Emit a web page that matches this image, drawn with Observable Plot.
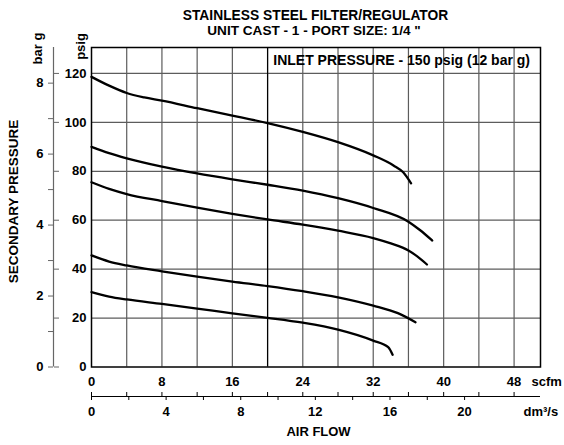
<!DOCTYPE html>
<html><head><meta charset="utf-8">
<script src="https://cdn.jsdelivr.net/npm/d3@7"></script>
<script src="https://cdn.jsdelivr.net/npm/@observablehq/plot@0.6"></script>
<style>html,body{margin:0;padding:0;background:#fff} svg{display:block}</style>
</head><body><div id="chart"></div>
<script>
// unit conversions
const PSI_PER_BAR = 14.5038;
const DM3S_PER_SCFM = 0.4719474;

// text
const titleLine1 = "STAINLESS STEEL FILTER/REGULATOR";
const titleLine2 = "UNIT CAST - 1 - PORT SIZE: 1/4 \"";
const inletLabel = "INLET PRESSURE - 150 psig (12 bar g)";
const yTitle = "SECONDARY PRESSURE";
const xTitle = "AIR FLOW";

// ticks
const scfmGrid = [4, 8, 12, 16, 20, 24, 28, 32, 36, 40, 44, 48];
const scfmTicks = [0, 4, 8, 12, 16, 20, 24, 28, 32, 36, 40, 44, 48];
const scfmLabels = [0, 8, 16, 24, 32, 40, 48];
const psigGrid = [20, 40, 60, 80, 100, 120];
const psigLabels = [0, 20, 40, 60, 80, 100, 120];
const barTicks = [0, 1, 2, 3, 4, 5, 6, 7, 8];
const dm3sTicks = [0, 2, 4, 6, 8, 10, 12, 14, 16, 18, 20];
const boxEdgeFlow = [20];

// curves (flow in scfm, secondary pressure in psig)
const curve1Flow = [0, 2, 4, 6, 8, 12, 16, 20, 24, 28, 32, 34.3, 35.4, 36.3];
const curve1Psig = [118.6, 115.0, 112.0, 110.2, 108.9, 105.8, 102.8, 99.7, 96.1, 91.9, 86.5, 82.4, 79.6, 75.1];
const curve2Flow = [0, 2, 4, 8, 12, 16, 20, 24, 28, 32, 36, 37.3, 38.7];
const curve2Psig = [90.0, 87.4, 85.3, 81.9, 79.1, 76.7, 74.5, 72.1, 69.0, 65.0, 59.4, 56.0, 51.7];
const curve3Flow = [0, 2, 4, 8, 12, 16, 20, 24, 28, 32, 34, 36, 37, 38.1];
const curve3Psig = [75.5, 72.8, 70.7, 67.8, 65.1, 62.6, 60.3, 58.2, 55.7, 52.7, 50.5, 47.6, 45.2, 41.9];
const curve4Flow = [0, 2, 4, 8, 12, 16, 20, 24, 28, 32, 34.8, 36.8];
const curve4Psig = [45.6, 43.1, 41.5, 39.1, 36.9, 34.9, 33.1, 31.0, 28.5, 25.1, 22.0, 18.3];
const curve5Flow = [0, 2, 4, 8, 12, 16, 20, 24, 28, 32, 33.7, 34.2];
const curve5Psig = [30.6, 28.8, 27.6, 25.8, 23.9, 21.9, 20.1, 18.1, 15.3, 10.8, 8.1, 5.0];

const curves = [
  [curve1Flow, curve1Psig], [curve2Flow, curve2Psig], [curve3Flow, curve3Psig],
  [curve4Flow, curve4Psig], [curve5Flow, curve5Psig]
];
const lineData = curves.flatMap(([fx, py], i) => fx.map((f, j) => ({id: i, flow: f, psig: py[j]})));

const FONT = "'Liberation Sans', Arial, Helvetica, sans-serif";
const GRID = "#5c5c5c";
const AXIS_GREY = "#666";

const chart = Plot.plot({
  width: 564,
  height: 445,
  marginLeft: 91,
  marginRight: 24,
  marginTop: 47,
  marginBottom: 78.5,
  style: {fontFamily: FONT, fontWeight: "bold", fontSize: "13px", background: "#fff", color: "#000", overflow: "visible"},
  x: {domain: [0, 51], axis: null},
  y: {domain: [0, 130.6], axis: null},
  marks: [
    // grid
    Plot.ruleX(scfmGrid, {stroke: GRID, strokeWidth: 1.2}),
    Plot.ruleY(psigGrid, {stroke: GRID, strokeWidth: 1.2}),
    Plot.ruleX(boxEdgeFlow, {stroke: "#000", strokeWidth: 1.2}),
    Plot.frame({stroke: "#000", strokeWidth: 1.5}),
    // curves
    Plot.line(lineData, {x: "flow", y: "psig", z: "id", curve: "monotone-x", stroke: "#000", strokeWidth: 2.3}),
    // inlet label
    Plot.text([inletLabel], {frameAnchor: "top-right", textAnchor: "end", lineAnchor: "middle", dx: -10.5, dy: 13, fontSize: 14, fontWeight: "bold", fill: "#000"}),
    // psig labels
    Plot.axisY(psigLabels, {anchor: "left", tickSize: 0, tickPadding: 5, label: null, fontSize: 13, fontWeight: "bold", fill: "#000"}),
    // psig tick marks on the pressure scale
    Plot.axisY(psigLabels, {anchor: "left", tickSize: 5, dx: -32, tickFormat: () => "", label: null, stroke: AXIS_GREY}),
    // bar axis
    Plot.ruleX([0], {dx: -38, stroke: AXIS_GREY, strokeWidth: 1.2}),
    Plot.axisY(barTicks.map(b => b * PSI_PER_BAR), {anchor: "left", tickSize: 5, tickPadding: 5, dx: -38, stroke: AXIS_GREY,
      tickFormat: d => { const b = Math.round(d / PSI_PER_BAR); return b % 2 === 0 ? String(b) : ""; },
      label: null, fontSize: 13, fontWeight: "bold", fill: "#000"}),
    // scfm labels
    Plot.axisX(scfmLabels, {anchor: "bottom", tickSize: 0, tickPadding: 10, label: null, fontSize: 13, fontWeight: "bold", fill: "#000"}),
    // lower axis line
    Plot.ruleY([0], {dy: 29.5, stroke: "#000", strokeWidth: 1.2}),
    // scfm ticks (upward)
    Plot.axisX(scfmTicks, {anchor: "bottom", tickSize: 4, dy: 25.5, tickFormat: () => "", label: null, stroke: "#000"}),
    // dm3/s ticks (downward) and labels
    Plot.axisX(dm3sTicks.map(d => d / DM3S_PER_SCFM), {anchor: "bottom", tickSize: 4, tickPadding: 6.5, dy: 29.5, stroke: "#000",
      tickFormat: d => { const v = Math.round(d * DM3S_PER_SCFM); return v % 4 === 0 ? String(v) : ""; },
      label: null, fontSize: 13, fontWeight: "bold", fill: "#000"}),
    // unit labels
    Plot.text(["scfm"], {frameAnchor: "bottom-right", textAnchor: "start", lineAnchor: "top", dx: -9, dy: 10, fontSize: 13, fontWeight: "bold", fill: "#000"}),
    Plot.text(["dm³/s"], {frameAnchor: "bottom-right", textAnchor: "start", lineAnchor: "top", dx: -17, dy: 40, fontSize: 13, fontWeight: "bold", fill: "#000"}),
    Plot.text([xTitle], {frameAnchor: "bottom", textAnchor: "middle", lineAnchor: "top", dx: 2.5, dy: 60.2, fontSize: 13, fontWeight: "bold", fill: "#000"}),
    // y titles
    Plot.text([yTitle], {frameAnchor: "left", rotate: -90, textAnchor: "middle", lineAnchor: "middle", dx: -77.7, dy: -5.75, fontSize: 13.5, fontWeight: "bold", fill: "#000"}),
    Plot.text(["bar g"], {frameAnchor: "top-left", rotate: -90, textAnchor: "middle", lineAnchor: "middle", dx: -53.5, dy: 1, fontSize: 13, fontWeight: "bold", fill: "#000"}),
    Plot.text(["psig"], {frameAnchor: "top-left", rotate: -90, textAnchor: "middle", lineAnchor: "middle", dx: -10.5, dy: -1, fontSize: 13, fontWeight: "bold", fill: "#000"}),
    // title
    Plot.text([titleLine1], {frameAnchor: "top", textAnchor: "middle", lineAnchor: "top", dx: -0.5, dy: -37.7, fontSize: 13.8, fontWeight: "bold", fill: "#000"}),
    Plot.text([titleLine2], {frameAnchor: "top", textAnchor: "middle", lineAnchor: "top", dx: -2, dy: -22, fontSize: 13.6, fontWeight: "bold", fill: "#000"})
  ]
});
document.getElementById("chart").appendChild(chart);
</script>
</body></html>
